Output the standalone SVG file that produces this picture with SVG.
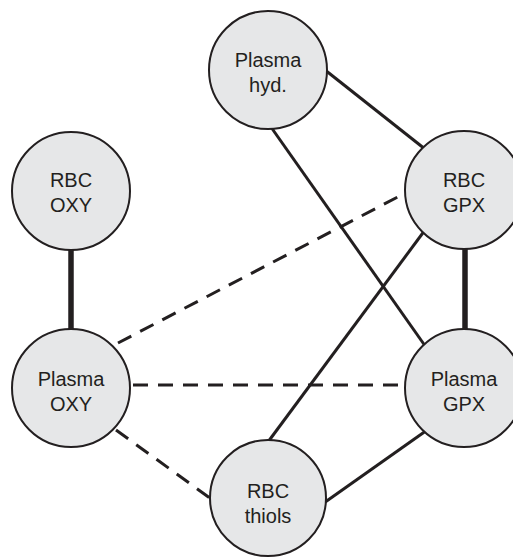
<svg xmlns="http://www.w3.org/2000/svg" width="513" height="557" viewBox="0 0 513 557">
<style>
.bg{fill:#ffffff}
.edge{stroke:#231f20;stroke-width:3;fill:none}
.thick{stroke-width:5.5}
.dash{stroke-dasharray:15 10}
.node circle{fill:#e6e7e8;stroke:#231f20;stroke-width:2}
.node text{font-family:"Liberation Sans",Arial,sans-serif;font-size:20px;fill:#231f20;text-anchor:middle}
</style>
<rect class="bg" x="0" y="0" width="513" height="557"/>
<g id="connectors">
<line class="edge thick" x1="71" y1="240" x2="71" y2="340"/>
<line class="edge thick" x1="465" y1="240" x2="465" y2="340"/>
<line class="edge" x1="320" y1="66" x2="430" y2="153"/>
<line class="edge" x1="266" y1="120" x2="428" y2="350"/>
<line class="edge" x1="428" y1="226" x2="265" y2="446"/>
<line class="edge" x1="430" y1="428" x2="321" y2="505"/>
<line class="edge dash" x1="118" y1="343" x2="413" y2="189"/>
<line class="edge dash" x1="133" y1="385" x2="410" y2="385"/>
<line class="edge dash" x1="116" y1="430" x2="214" y2="501"/>
</g>
<g id="plasma-hyd" class="node"><circle cx="268" cy="70" r="59"/><text x="268" y="67">Plasma</text><text x="268" y="92">hyd.</text></g>
<g id="rbc-oxy" class="node"><circle cx="71" cy="191" r="59"/><text x="71" y="187">RBC</text><text x="71" y="212">OXY</text></g>
<g id="rbc-gpx" class="node"><circle cx="464" cy="190" r="59"/><text x="464" y="187">RBC</text><text x="464" y="212">GPX</text></g>
<g id="plasma-oxy" class="node"><circle cx="71" cy="388" r="59"/><text x="71" y="386">Plasma</text><text x="71" y="411">OXY</text></g>
<g id="plasma-gpx" class="node"><circle cx="464" cy="388" r="59"/><text x="464" y="386">Plasma</text><text x="464" y="411">GPX</text></g>
<g id="rbc-thiols" class="node"><circle cx="268" cy="498" r="58"/><text x="268" y="498">RBC</text><text x="268" y="523">thiols</text></g>
</svg>
